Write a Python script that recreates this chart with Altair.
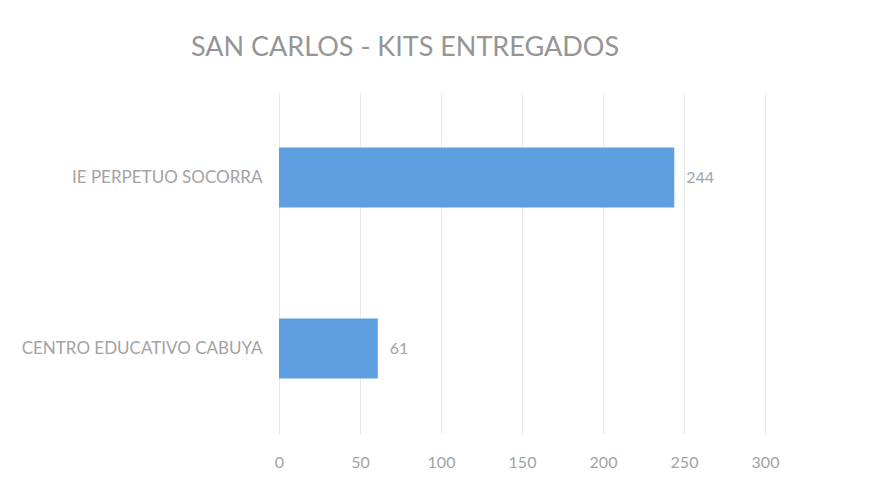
import altair as alt
import pandas as pd

categories = ["IE PERPETUO SOCORRA", "CENTRO EDUCATIVO CABUYA"]
values = [244, 61]
x_ticks = [0, 50, 100, 150, 200, 250, 300]

df = pd.DataFrame({"escuela": categories, "kits": values})

FONT = "Lato"
GRAY = "#a3a3a3"

y_enc = alt.Y("escuela:N", sort=categories, title=None,
              axis=alt.Axis(labelFont=FONT, labelFontSize=17, labelColor=GRAY,
                            labelPadding=17, labelLimit=0, ticks=False,
                            domain=False, grid=False))
x_enc = alt.X("kits:Q", title=None,
              scale=alt.Scale(domain=[0, 300], nice=False),
              axis=alt.Axis(values=x_ticks, labelFont=FONT, labelFontSize=16,
                            labelColor=GRAY, labelPadding=20, labelFlush=False,
                            ticks=False, domain=False, grid=True,
                            gridColor="#e8e8e8", gridWidth=1))

bars = alt.Chart(df).mark_bar(size=60, color="#5d9fe0").encode(x=x_enc, y=y_enc)
labels = alt.Chart(df).mark_text(align="left", dx=12, font=FONT, fontSize=16,
                                 color=GRAY).encode(x="kits:Q", y=alt.Y("escuela:N", sort=categories),
                                                    text="kits:Q")

chart = (bars + labels).properties(
    width=486, height=342,
    autosize=alt.AutoSizeParams(type="none"),
    padding={"left": 271, "top": 84, "right": 104, "bottom": 40},
    title=alt.TitleParams("SAN CARLOS - KITS ENTREGADOS", font=FONT, fontSize=27,
                          fontWeight="normal", color="#959595", anchor="middle",
                          dx=-117, offset=30),
).configure_view(stroke=None)

chart.save("out.html", embed_options={"renderer": "svg", "actions": False})
